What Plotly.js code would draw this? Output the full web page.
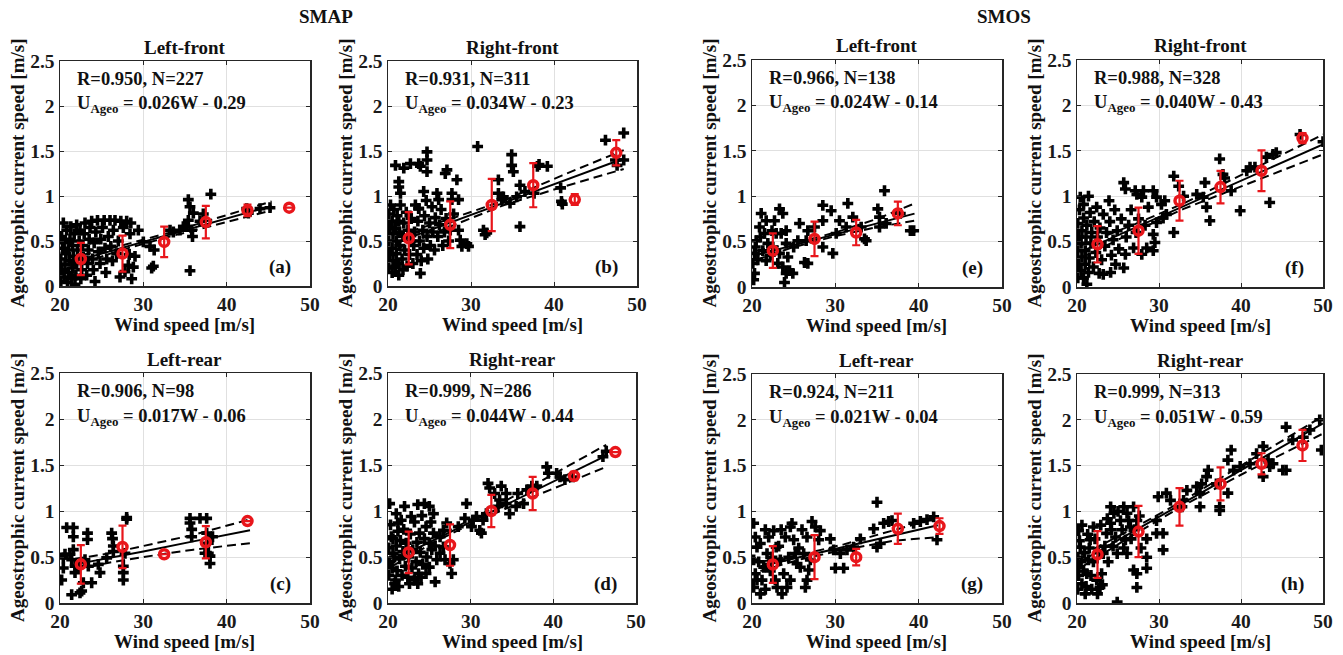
<!DOCTYPE html>
<html><head><meta charset="utf-8">
<script src="https://cdn.plot.ly/plotly-3.0.1.min.js"></script>
<style>html,body{margin:0;padding:0;background:#fff}#g{width:1343px;height:655px}</style>
</head><body><div id="g"></div>
<script>
// ---------- data ----------
const binX6 = [22.5,27.5,32.5,37.5,42.5,47.5];

// (a) SMAP Left-front
const ptsA = [[20.1,0.05],[20.2,0.18],[20.1,0.3],[20.3,0.42],[20.2,0.55],[20.4,0.7],[20.5,0.1],[20.6,0.24],[20.7,0.36],[20.5,0.48],[20.8,0.62],[20.9,0.04],[21.0,0.15],[21.1,0.28],[21.0,0.4],[21.2,0.52],[21.3,0.66],[21.4,0.08],[21.5,0.2],[21.6,0.33],[21.5,0.45],[21.7,0.58],[21.8,0.02],[21.9,0.12],[22.0,0.25],[22.1,0.4],[22.0,0.68],[22.3,0.5],[22.4,0.62],[22.5,0.08],[22.6,0.18],[22.8,0.32],[22.7,0.45],[22.9,0.58],[23.0,0.7],[23.2,0.12],[23.3,0.25],[23.4,0.4],[23.5,0.52],[23.6,0.65],[23.8,0.72],[23.9,0.3],[24.0,0.18],[24.1,0.48],[24.2,0.05],[24.3,0.6],[24.5,0.73],[24.6,0.38],[24.8,0.25],[24.9,0.52],[25.1,0.65],[25.3,0.73],[25.4,0.42],[25.5,0.15],[25.6,0.3],[25.8,0.55],[26.0,0.73],[26.1,0.44],[26.3,0.28],[26.4,0.62],[26.6,0.73],[26.8,0.36],[27.0,0.5],[27.2,0.1],[27.3,0.72],[27.6,0.65],[27.8,0.16],[28.0,0.72],[28.2,0.23],[28.4,0.58],[28.5,0.7],[28.6,0.08],[28.8,0.21],[29.0,0.33],[28.3,0.35],[29.4,0.62],[30.0,0.49],[30.8,0.44],[31.0,0.2],[31.2,0.22],[31.3,0.4],[33.2,0.62],[33.6,0.6],[34.4,0.62],[34.8,0.66],[35.2,0.66],[35.4,0.96],[35.6,0.88],[35.4,0.73],[35.8,0.62],[35.9,0.55],[36.0,0.81],[35.6,0.17],[36.8,0.72],[37.2,0.8],[38.1,1.02],[42.4,0.86],[42.6,0.81],[44.0,0.86],[45.2,0.87]];
const fitXA = [21,27,33,39,45.4], fitYA = [0.256,0.412,0.568,0.724,0.89], upA = [0.31,0.44,0.59,0.76,0.94], loA = [0.20,0.39,0.545,0.69,0.84];
const binYA = [0.30,0.36,0.49,0.71,0.84,0.87], binEA = [0.18,0.20,0.17,0.18,0.065,0];

// (b) SMAP Right-front
const ptsB = [[20.1,0.2],[20.2,0.35],[20.1,0.5],[20.2,0.65],[20.1,0.8],[20.3,0.9],[20.5,0.15],[20.6,0.28],[20.5,0.42],[20.6,0.58],[20.5,0.72],[20.7,0.85],[20.9,0.22],[21.0,0.36],[21.0,0.5],[20.9,0.64],[21.1,0.78],[21.3,0.12],[21.3,0.25],[21.4,0.45],[21.4,0.6],[21.3,0.72],[21.5,0.9],[21.7,0.3],[21.8,0.18],[21.8,0.55],[21.9,0.7],[22.0,0.4],[22.2,0.82],[22.3,0.22],[22.4,0.62],[22.6,0.35],[22.7,0.5],[22.8,0.75],[23.0,0.25],[23.1,0.45],[23.2,0.6],[23.3,0.9],[23.5,0.35],[23.6,0.72],[23.7,0.86],[23.8,0.5],[23.9,0.14],[24.0,0.28],[24.2,0.62],[24.3,0.42],[24.4,0.78],[24.6,0.95],[24.7,0.55],[24.8,0.3],[25.0,0.7],[25.1,0.45],[25.3,0.88],[25.4,0.6],[25.6,0.4],[25.7,0.76],[25.9,1.03],[26.0,0.55],[26.1,0.96],[26.2,0.68],[26.4,0.85],[26.6,0.45],[26.8,0.6],[27.0,0.75],[27.3,0.5],[27.5,0.62],[27.7,1.03],[27.7,0.96],[27.9,0.8],[28.3,1.18],[28.5,0.96],[28.5,0.62],[28.7,0.51],[28.9,0.44],[29.5,0.47],[29.7,0.44],[20.9,1.34],[21.9,1.31],[21.3,1.16],[21.3,1.1],[21.5,1.03],[22.7,1.36],[23.7,1.36],[23.9,1.33],[24.7,1.49],[24.7,1.4],[24.7,1.27],[24.3,1.05],[23.7,0.86],[27.1,1.29],[26.9,1.25],[30.8,1.55],[31.5,0.62],[31.9,0.59],[31.7,0.57],[33.3,1.18],[33.3,1.03],[33.7,0.96],[33.9,0.99],[34.7,0.92],[34.9,1.46],[34.9,1.34],[35.1,1.27],[35.5,0.99],[35.9,1.12],[35.9,0.66],[36.5,1.05],[37.6,1.03],[38.0,1.33],[38.2,1.35],[39.2,1.33],[40.8,1.09],[40.9,0.94],[41.0,0.91],[46.2,1.62],[47.4,1.4],[47.6,1.34],[48.4,1.4],[48.4,1.7]];
const fitXB = [21,28,34,41,48.4], fitYB = [0.484,0.722,0.926,1.164,1.416], upB = [0.56,0.76,0.95,1.23,1.51], loB = [0.41,0.68,0.90,1.10,1.30];
const binYB = [0.53,0.68,0.90,1.12,0.96,1.48], binEB = [0.29,0.26,0.29,0.245,0.06,0.14];

// (c) SMAP Left-rear
const ptsC = [[20.2,0.25],[20.4,0.49],[20.6,0.53],[20.4,0.38],[20.8,0.82],[21.2,0.53],[21.4,0.47],[21.4,0.09],[21.6,0.82],[21.6,0.72],[21.6,0.58],[21.8,0.4],[21.8,0.33],[22.2,0.4],[22.4,0.11],[22.6,0.13],[22.8,0.22],[23.0,0.47],[23.3,0.76],[23.3,0.69],[23.4,0.4],[23.8,0.22],[24.6,0.42],[24.8,0.33],[25.6,0.49],[26.2,0.76],[26.4,0.62],[26.4,0.56],[26.3,0.7],[27.6,0.4],[27.6,0.33],[27.6,0.25],[27.8,0.54],[28.0,0.91],[28.0,0.93],[35.6,0.92],[35.6,0.87],[35.8,0.8],[35.8,0.72],[36.8,0.92],[37.6,0.92],[37.6,0.76],[37.8,0.65],[37.8,0.54],[38.0,0.43],[38.0,0.51],[37.4,0.54],[38.3,0.72]];
const fitXC = [21.8,26,30,36,42.8], fitYC = [0.42,0.49,0.56,0.67,0.79], upC = [0.48,0.54,0.62,0.74,0.91], loC = [0.36,0.44,0.50,0.58,0.65];
const binXC = [22.5,27.5,32.5,37.5,42.5], binYC = [0.42,0.61,0.53,0.66,0.89], binEC = [0.21,0.23,0,0.175,0];

// (d) SMAP Right-rear
const ptsD = [[20.1,0.3],[20.2,0.45],[20.1,0.6],[20.3,0.85],[20.5,0.15],[20.5,0.38],[20.6,0.7],[20.8,0.5],[20.9,0.25],[21.0,0.62],[21.1,0.35],[21.2,0.78],[21.3,0.18],[21.4,0.48],[21.5,0.68],[21.7,0.3],[21.8,0.56],[21.9,0.8],[22.1,0.4],[22.2,0.65],[22.4,0.28],[22.5,0.5],[22.7,0.75],[22.9,0.38],[23.0,0.58],[23.2,0.88],[23.4,0.45],[23.5,0.66],[23.7,0.32],[23.9,0.55],[24.1,0.95],[24.2,0.42],[24.4,0.7],[24.7,0.5],[25.0,0.65],[25.2,0.88],[25.3,0.58],[25.7,0.62],[20.2,1.08],[21.0,0.97],[21.2,0.87],[21.6,0.9],[22.0,1.05],[22.8,0.94],[23.6,1.07],[24.4,1.08],[25.0,1.05],[25.5,0.97],[24.6,0.83],[23.8,0.76],[23.2,0.25],[23.6,0.21],[22.6,0.21],[24.0,0.28],[24.6,0.32],[25.7,0.23],[25.0,0.39],[25.9,0.47],[26.3,0.54],[26.7,0.61],[26.9,0.47],[27.5,0.43],[27.7,0.32],[27.9,0.47],[26.3,0.72],[26.7,0.79],[27.1,0.87],[25.5,0.76],[20.8,0.21],[20.6,0.54],[20.4,0.72],[28.5,0.83],[29.3,0.92],[29.5,1.08],[30.1,0.83],[30.3,0.9],[30.7,0.94],[31.1,0.79],[31.3,0.76],[31.5,0.9],[31.9,0.97],[32.1,1.3],[32.3,1.25],[32.9,1.19],[33.3,1.05],[33.5,1.12],[33.7,1.27],[34.3,1.08],[34.7,0.97],[34.3,1.19],[35.5,1.05],[35.7,1.19],[36.4,1.08],[36.8,1.23],[37.4,1.27],[38.0,1.27],[39.2,1.48],[39.4,1.41],[40.4,1.41],[40.8,1.37],[41.4,1.34],[42.4,1.37],[46.0,1.59],[46.4,1.65]];
const fitXD = [20.5,26,31,38,46.4], fitYD = [0.462,0.704,0.924,1.232,1.602], upD = [0.52,0.73,0.95,1.30,1.72], loD = [0.40,0.68,0.90,1.17,1.48];
const binYD = [0.55,0.63,1.00,1.19,1.38,1.64], binED = [0.225,0.225,0.175,0.18,0.045,0];

// (e) SMOS Left-front
const ptsE = [[20.1,0.26],[20.3,0.15],[20.2,0.08],[20.3,0.37],[20.5,0.51],[20.4,0.44],[20.9,0.66],[21.1,0.81],[20.7,0.3],[21.0,0.55],[21.5,0.59],[21.3,0.4],[21.7,0.29],[21.7,0.73],[21.9,0.48],[22.2,0.35],[22.4,0.62],[22.7,0.73],[22.9,0.59],[22.5,0.44],[23.3,0.86],[23.7,0.81],[23.5,0.59],[23.3,0.37],[23.1,0.26],[23.7,0.22],[24.1,0.15],[23.9,0.05],[24.9,0.15],[24.5,0.18],[24.3,0.33],[24.1,0.48],[24.1,0.62],[25.7,0.7],[25.5,0.51],[25.0,0.44],[26.5,0.51],[26.7,0.62],[26.3,0.27],[26.7,0.26],[27.5,0.66],[28.5,0.73],[28.5,0.9],[29.5,0.84],[28.5,0.44],[29.7,0.37],[30.5,0.73],[30.1,0.59],[31.5,0.92],[31.3,0.66],[32.1,0.77],[33.1,0.66],[33.5,0.53],[33.7,0.51],[35.1,0.86],[35.3,0.77],[35.3,0.66],[35.9,1.06],[36.1,0.7],[37.8,0.81],[39.0,0.62],[39.4,0.62]];
const fitXE = [20.5,25,30,35,39.5], fitYE = [0.352,0.46,0.58,0.70,0.808], upE = [0.40,0.48,0.60,0.75,0.92], loE = [0.30,0.44,0.56,0.66,0.73];
const binXE = [22.5,27.5,32.5,37.5], binYE = [0.40,0.53,0.60,0.81], binEE = [0.19,0.19,0.14,0.13];

// (f) SMOS Right-front
const ptsF = [[20.1,0.1],[20.2,0.25],[20.1,0.4],[20.2,0.55],[20.1,0.7],[20.3,0.85],[20.4,0.99],[20.5,0.18],[20.6,0.33],[20.5,0.48],[20.6,0.62],[20.8,0.1],[20.8,0.76],[20.8,0.91],[21.0,0.25],[21.0,0.4],[21.1,0.55],[21.2,0.03],[21.2,0.68],[21.4,1.0],[21.4,0.16],[21.5,0.32],[21.6,0.82],[21.7,0.48],[21.8,0.6],[22.0,0.22],[22.1,0.72],[22.3,0.38],[22.4,0.88],[22.5,0.55],[22.7,0.15],[22.8,0.65],[23.0,0.3],[23.2,0.8],[23.2,0.14],[23.4,0.45],[23.6,0.6],[23.9,0.95],[24.0,0.72],[24.1,0.16],[24.2,0.35],[24.4,0.52],[24.6,0.85],[24.7,0.25],[24.9,0.62],[25.1,0.42],[25.4,0.75],[25.7,0.21],[25.7,1.15],[25.9,1.08],[25.9,0.36],[26.0,0.55],[26.3,0.68],[26.6,0.85],[26.9,0.43],[27.1,1.06],[27.3,1.02],[27.2,0.6],[27.5,0.75],[27.9,0.99],[27.9,0.36],[28.1,1.06],[28.3,0.68],[28.5,0.43],[28.7,0.88],[29.3,1.06],[29.7,0.99],[30.3,0.91],[30.7,0.95],[30.9,0.8],[30.5,0.76],[29.7,0.71],[29.3,0.58],[29.5,0.49],[29.3,0.4],[31.8,1.22],[31.8,0.6],[32.4,1.11],[33.0,1.0],[34.6,1.02],[35.6,1.15],[35.4,0.99],[35.8,0.88],[36.2,0.73],[37.4,1.41],[37.8,1.24],[38.0,1.2],[38.8,1.06],[39.9,0.84],[40.7,1.28],[41.1,1.32],[41.7,1.32],[43.1,1.43],[43.5,0.93],[43.9,1.46],[44.3,1.48],[47.2,1.68],[50.0,1.6]];
const fitXF = [20.5,27,33,40,50], fitYF = [0.39,0.65,0.89,1.17,1.57], upF = [0.46,0.69,0.92,1.23,1.68], loF = [0.32,0.61,0.86,1.11,1.46];
const binYF = [0.47,0.62,0.95,1.10,1.28,1.64], binEF = [0.20,0.255,0.22,0.18,0.225,0.055];

// (g) SMOS Left-rear
const ptsG = [[20.2,0.87],[20.4,0.72],[20.6,0.61],[20.2,0.47],[20.4,0.32],[20.2,0.17],[21.0,0.1],[21.2,0.25],[21.4,0.39],[21.8,0.54],[22.0,0.72],[22.6,0.79],[22.9,0.61],[23.4,0.47],[23.8,0.32],[23.6,0.1],[23.0,0.17],[24.2,0.17],[24.6,0.25],[24.0,0.72],[24.6,0.83],[25.0,0.69],[25.2,0.54],[25.8,0.39],[26.6,0.25],[26.4,0.17],[26.2,0.54],[26.6,0.72],[27.2,0.89],[27.6,0.83],[28.0,0.69],[28.2,0.79],[27.0,0.47],[25.4,0.43],[24.8,0.87],[29.4,0.7],[29.8,0.58],[30.0,0.38],[30.6,0.54],[31.0,0.38],[31.4,0.58],[32.2,0.61],[33.0,0.7],[35.0,1.1],[34.6,0.81],[35.0,0.61],[35.4,0.65],[35.8,0.87],[36.4,0.89],[36.8,0.9],[39.4,0.87],[40.2,0.89],[41.0,0.91],[41.8,0.94],[42.2,0.69],[20.8,0.45],[21.0,0.65],[21.6,0.15],[22.2,0.35],[22.4,0.5],[20.6,0.25],[21.6,0.8],[22.8,0.25],[23.2,0.62],[24.4,0.5],[25.6,0.6],[26.8,0.36],[22.0,0.42],[23.5,0.8],[26.0,0.8]];
const fitXG = [21,26,31,37,42.3], fitYG = [0.401,0.506,0.611,0.737,0.848], upG = [0.45,0.53,0.64,0.79,0.93], loG = [0.35,0.48,0.58,0.68,0.72];
const binXG = [22.5,27.5,32.5,37.5,42.5], binYG = [0.42,0.50,0.50,0.81,0.84], binEG = [0.20,0.24,0.09,0.165,0.085];

// (h) SMOS Right-rear
const ptsH = [[20.1,0.15],[20.2,0.3],[20.1,0.5],[20.3,0.68],[20.5,0.45],[20.6,0.85],[20.8,0.35],[20.9,0.55],[21.1,0.18],[21.3,0.75],[21.5,0.6],[21.7,0.3],[21.8,0.15],[22.0,0.45],[22.2,0.7],[22.5,0.1],[22.6,0.55],[22.9,0.85],[23.1,0.2],[23.4,0.62],[23.7,0.92],[23.8,0.45],[24.2,0.8],[24.4,0.62],[25.0,1.0],[25.5,0.8],[25.7,0.6],[26.3,0.9],[26.6,0.7],[27.0,0.8],[27.6,0.95],[27.8,0.6],[20.2,0.79],[20.4,0.61],[20.2,0.39],[20.6,0.21],[21.0,0.1],[21.2,0.32],[21.4,0.47],[21.6,0.69],[22.0,0.83],[22.4,0.25],[22.8,0.17],[23.0,0.32],[23.2,0.54],[23.6,0.76],[24.1,1.05],[24.5,0.98],[24.1,0.87],[24.7,0.72],[24.9,0.54],[25.3,0.9],[25.7,1.05],[26.1,0.98],[26.5,0.83],[26.9,1.05],[27.3,0.9],[25.9,0.69],[26.1,0.54],[26.9,0.36],[27.3,0.32],[27.3,0.17],[28.5,0.7],[28.5,0.5],[28.5,0.38],[24.9,0.01],[29.7,0.76],[29.7,0.9],[30.5,0.76],[30.5,0.58],[29.9,1.16],[30.9,1.2],[31.4,1.12],[33.0,1.12],[32.8,1.05],[33.4,1.23],[34.6,1.27],[35.0,1.2],[35.2,1.3],[35.0,1.05],[36.0,1.45],[35.8,1.38],[37.0,1.3],[37.4,1.05],[37.4,1.01],[38.4,1.56],[38.4,1.2],[38.8,1.67],[39.1,1.45],[39.9,1.49],[41.1,1.52],[41.9,1.63],[42.7,1.71],[43.3,1.56],[43.5,1.49],[43.9,1.52],[45.1,1.45],[45.5,1.45],[45.5,1.92],[46.3,1.78],[47.6,1.81],[48.4,1.89],[49.6,2.0],[49.8,1.67],[42.7,1.38]];
const fitXH = [20.5,27,33,40,50], fitYH = [0.456,0.787,1.093,1.45,1.96], upH = [0.52,0.82,1.12,1.50,2.04], loH = [0.39,0.75,1.065,1.40,1.85];
const binYH = [0.53,0.78,1.05,1.30,1.52,1.72], binEH = [0.255,0.28,0.205,0.18,0.115,0.17];

const titles = ['Left-front','Right-front','Left-rear','Right-rear','Left-front','Right-front','Left-rear','Right-rear'];
const labels = ['(a)','(b)','(c)','(d)','(e)','(f)','(g)','(h)'];
const rTexts = ['R=0.950, N=227','R=0.931, N=311','R=0.906, N=98','R=0.999, N=286','R=0.966, N=138','R=0.988, N=328','R=0.924, N=211','R=0.999, N=313'];
const eqTexts = ['0.026W - 0.29','0.034W - 0.23','0.017W - 0.06','0.044W - 0.44','0.024W - 0.14','0.040W - 0.43','0.021W - 0.04','0.051W - 0.59'];
const groupTitles = ['SMAP','SMOS'];
const xTicks = [20,30,40,50], yTicks = [0,0.5,1,1.5,2,2.5], yTickText = ['0','0.5','1','1.5','2','2.5'];

// ---------- assembly ----------
const panels = [
  {pts:ptsA, fx:fitXA, fy:fitYA, up:upA, lo:loA, bx:binX6, by:binYA, be:binEA},
  {pts:ptsB, fx:fitXB, fy:fitYB, up:upB, lo:loB, bx:binX6, by:binYB, be:binEB},
  {pts:ptsC, fx:fitXC, fy:fitYC, up:upC, lo:loC, bx:binXC, by:binYC, be:binEC},
  {pts:ptsD, fx:fitXD, fy:fitYD, up:upD, lo:loD, bx:binX6, by:binYD, be:binED},
  {pts:ptsE, fx:fitXE, fy:fitYE, up:upE, lo:loE, bx:binXE, by:binYE, be:binEE},
  {pts:ptsF, fx:fitXF, fy:fitYF, up:upF, lo:loF, bx:binX6, by:binYF, be:binEF},
  {pts:ptsG, fx:fitXG, fy:fitYG, up:upG, lo:loG, bx:binXG, by:binYG, be:binEG},
  {pts:ptsH, fx:fitXH, fy:fitYH, up:upH, lo:loH, bx:binX6, by:binYH, be:binEH}
];
// pixel boxes [left, right, top, bottom]
const boxes = [[60,310,61,286],[388,637,61,286],[60,310,373,603],[388,636,373,603],
               [752,1002,60,287],[1077,1323,60,287],[752,1002,374,603],[1077,1323,374,603]];
const W = 1343, H = 655;
const FONT = 'Liberation Serif, Times New Roman, serif';
const traces = [], annotations = [];
const layout = {width:W, height:H, margin:{l:0,r:0,t:0,b:0}, paper_bgcolor:'#fff', plot_bgcolor:'#fff', showlegend:false, annotations};

panels.forEach((p, i) => {
  const n = i + 1, xa = 'x' + (n > 1 ? n : ''), ya = 'y' + (n > 1 ? n : '');
  const [l, r, t, b] = boxes[i];
  const common = {showgrid:true, gridcolor:'#e0e0e0', gridwidth:1, zeroline:false, showline:true, linecolor:'#262626', linewidth:1.5,
    mirror:'ticks', ticks:'inside', ticklen:4, tickcolor:'#262626', tickfont:{family:FONT, size:19.5, color:'#1a1a1a', weight:'bold'}, fixedrange:true};
  layout['xaxis' + (n > 1 ? n : '')] = Object.assign({}, common, {domain:[l / W, r / W], range:[20,50], tickvals:xTicks, anchor:ya});
  layout['yaxis' + (n > 1 ? n : '')] = Object.assign({}, common, {domain:[1 - b / H, 1 - t / H], range:[0,2.5], tickvals:yTicks, ticktext:yTickText, anchor:xa});
  traces.push({type:'scatter', mode:'markers', x:p.pts.map(d => d[0]), y:p.pts.map(d => d[1]), xaxis:xa, yaxis:ya,
    marker:{symbol:'cross', size:9, color:'#000'}, hoverinfo:'skip'});
  traces.push({type:'scatter', mode:'lines', x:p.fx, y:p.fy, xaxis:xa, yaxis:ya, line:{color:'#000', width:2}, hoverinfo:'skip'});
  traces.push({type:'scatter', mode:'lines', x:p.fx, y:p.up, xaxis:xa, yaxis:ya, line:{color:'#000', width:2, dash:'9px,5px'}, hoverinfo:'skip'});
  traces.push({type:'scatter', mode:'lines', x:p.fx, y:p.lo, xaxis:xa, yaxis:ya, line:{color:'#000', width:2, dash:'9px,5px'}, hoverinfo:'skip'});
  traces.push({type:'scatter', mode:'markers', x:p.bx, y:p.by, xaxis:xa, yaxis:ya,
    error_y:{type:'data', array:p.be, visible:true, color:'#e8161b', thickness:2.2, width:4},
    marker:{symbol:'circle-open', size:9, color:'#e8161b', line:{width:3.5, color:'#e8161b'}}, hoverinfo:'skip'});
  const cx = (l + r) / 2 / W;
  annotations.push({xref:'paper', yref:'paper', x:cx, y:1 - (t - 14) / H, text:'<b>' + titles[i] + '</b>', showarrow:false,
    font:{family:FONT, size:19, color:'#111'}, xanchor:'center', yanchor:'middle'});
  annotations.push({xref:'paper', yref:'paper', x:cx, y:1 - (b + 38) / H, text:'<b>Wind speed [m/s]</b>', showarrow:false,
    font:{family:FONT, size:19, color:'#111'}, xanchor:'center', yanchor:'middle'});
  annotations.push({xref:'paper', yref:'paper', x:(l - 43) / W, y:1 - (t + b) / 2 / H, text:'<b>Ageostrophic current speed [m/s]</b>', showarrow:false,
    textangle:-90, font:{family:FONT, size:19, color:'#111'}, xanchor:'center', yanchor:'middle'});
  annotations.push({xref:'paper', yref:'paper', x:(l + 15) / W, y:1 - (t + 18) / H, text:'<b>' + rTexts[i] + '</b>', showarrow:false,
    font:{family:FONT, size:18.5, color:'#111'}, xanchor:'left', yanchor:'middle'});
  annotations.push({xref:'paper', yref:'paper', x:(l + 15) / W, y:1 - (t + 44) / H, text:'<b>U<sub>Ageo</sub> = ' + eqTexts[i] + '</b>', showarrow:false,
    font:{family:FONT, size:18.5, color:'#111'}, xanchor:'left', yanchor:'middle'});
  annotations.push({xref:'paper', yref:'paper', x:(r - 17) / W, y:1 - (b - 19) / H, text:'<b>' + labels[i] + '</b>', showarrow:false,
    font:{family:FONT, size:19, color:'#111'}, xanchor:'right', yanchor:'middle'});
});
annotations.push({xref:'paper', yref:'paper', x:326 / W, y:1 - 17 / H, text:'<b>' + groupTitles[0] + '</b>', showarrow:false,
  font:{family:FONT, size:19, color:'#111'}, xanchor:'center', yanchor:'middle'});
annotations.push({xref:'paper', yref:'paper', x:1004 / W, y:1 - 17 / H, text:'<b>' + groupTitles[1] + '</b>', showarrow:false,
  font:{family:FONT, size:19, color:'#111'}, xanchor:'center', yanchor:'middle'});

Plotly.newPlot('g', traces, layout, {staticPlot:true, displayModeBar:false});
</script>
</body></html>
